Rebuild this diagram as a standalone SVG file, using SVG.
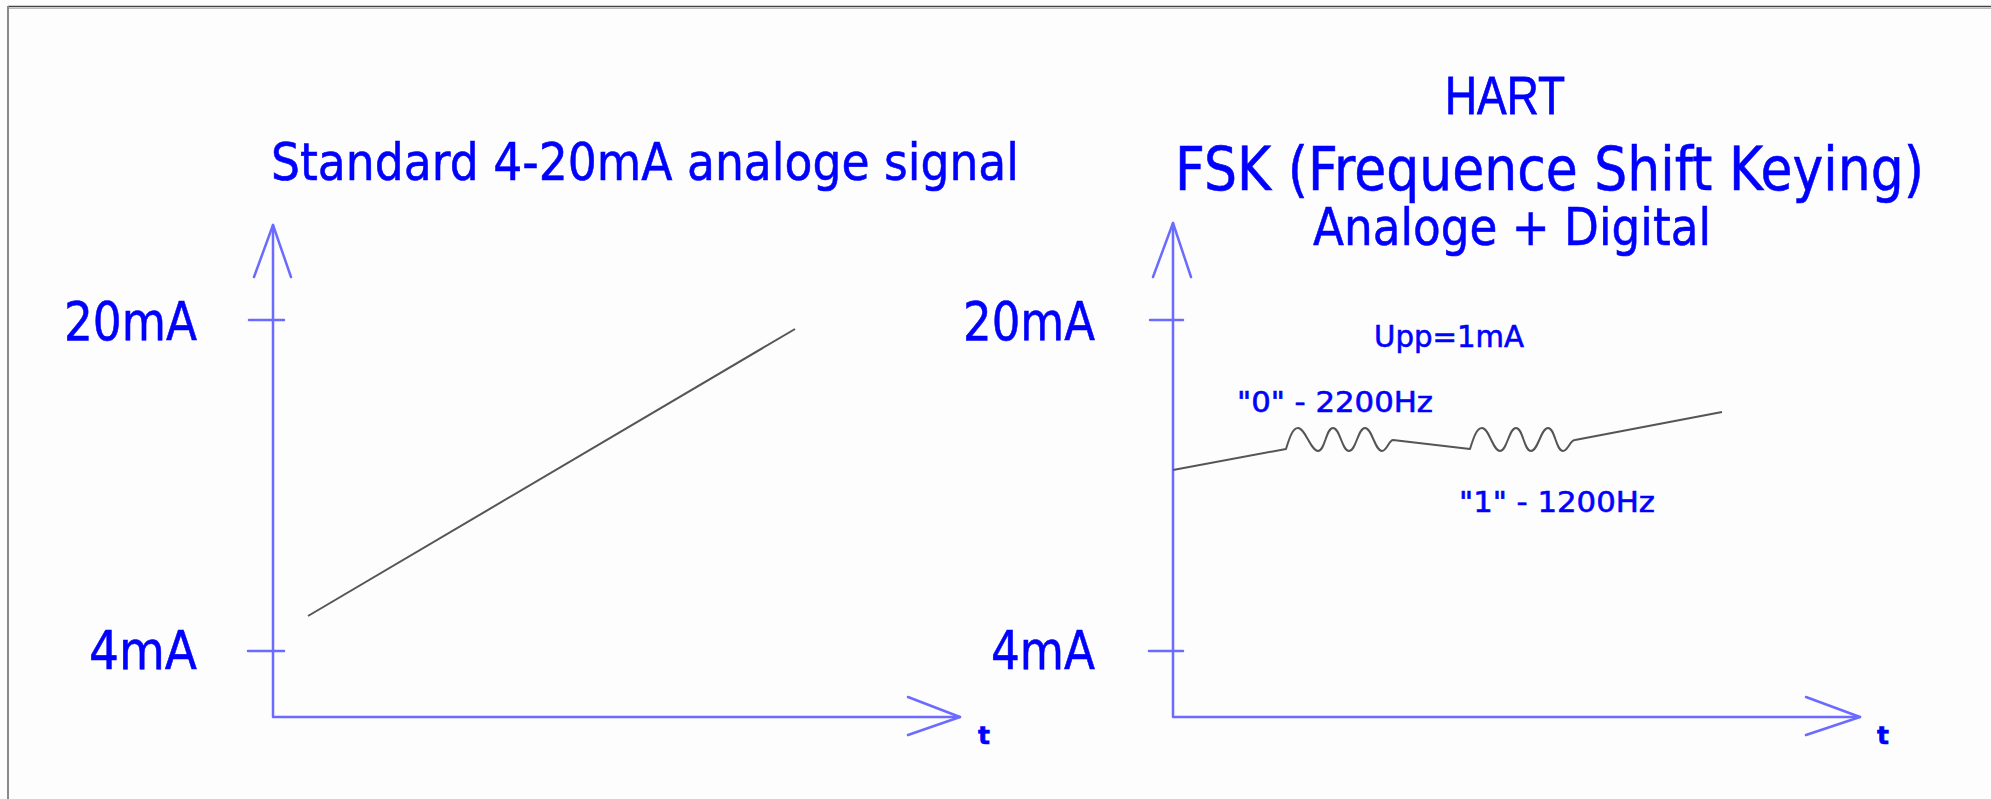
<svg xmlns="http://www.w3.org/2000/svg" width="1991" height="799" viewBox="0 0 1991 799">
<style>
.ax{stroke:#6b6bff;stroke-width:2.5;fill:none;stroke-linecap:round;stroke-linejoin:round}
.sig{stroke:#555;stroke-width:2;fill:none;stroke-linejoin:round}
.t{fill:#0000ff;stroke:#0000ff;stroke-width:0.6;font-family:"DejaVu Sans",Verdana,sans-serif}
.h{fill:#0000ff;stroke:#0000ff;stroke-width:0.8;font-family:"Liberation Sans",Arial,sans-serif}
</style>
<rect x="0" y="0" width="1991" height="799" fill="#fdfdfd"/>
<g id="frame">
<line x1="8" y1="6.5" x2="1991" y2="6.5" stroke="#444" stroke-width="1.5"/>
<line x1="8" y1="8.5" x2="1991" y2="8.5" stroke="#bbb" stroke-width="1"/>
<line x1="8" y1="6" x2="8" y2="799" stroke="#8a8a8a" stroke-width="2"/>
</g>
<g id="left-chart">
<text class="t" x="271" y="180" font-size="52" textLength="748" lengthAdjust="spacingAndGlyphs">Standard 4-20mA analoge signal</text>
<g id="left-axes">
<path class="ax" d="M273,225 L273,717 L960,717"/>
<path class="ax" d="M254,277 L273,225 L291,277"/>
<path class="ax" d="M908,697 L960,717 L908,735"/>
<line class="ax" x1="249" y1="320" x2="284" y2="320"/>
<line class="ax" x1="248" y1="651" x2="284" y2="651"/>
</g>
<text class="t" x="64" y="340" font-size="53" textLength="133" lengthAdjust="spacingAndGlyphs">20mA</text>
<text class="t" x="89" y="669" font-size="53" textLength="108" lengthAdjust="spacingAndGlyphs">4mA</text>
<text class="t" x="978" y="744" font-size="25" font-weight="bold" stroke-width="0">t</text>
<line id="left-signal" class="sig" x1="308" y1="616" x2="795" y2="329"/>
</g>
<g id="right-chart">
<text class="h" x="1445" y="114" font-size="54" textLength="120" lengthAdjust="spacingAndGlyphs">HART</text>
<text class="t" x="1175" y="190" font-size="61" textLength="749" lengthAdjust="spacingAndGlyphs">FSK (Frequence Shift Keying)</text>
<text class="t" x="1313" y="245" font-size="52" textLength="398" lengthAdjust="spacingAndGlyphs">Analoge + Digital</text>
<g id="right-axes">
<path class="ax" d="M1173,223 L1173,717 L1860,717"/>
<path class="ax" d="M1153,277 L1173,223 L1191,277"/>
<path class="ax" d="M1806,697 L1860,717 L1806,735"/>
<line class="ax" x1="1150" y1="320" x2="1183" y2="320"/>
<line class="ax" x1="1149" y1="651" x2="1183" y2="651"/>
</g>
<text class="t" x="963" y="340" font-size="53" textLength="132" lengthAdjust="spacingAndGlyphs">20mA</text>
<text class="t" x="991" y="669" font-size="53" textLength="104" lengthAdjust="spacingAndGlyphs">4mA</text>
<text class="t" x="1877" y="744" font-size="25" font-weight="bold" stroke-width="0">t</text>
<text class="t" x="1374" y="347" font-size="30" textLength="150" lengthAdjust="spacingAndGlyphs">Upp=1mA</text>
<text class="t" x="1237" y="412" font-size="28.5" textLength="196" lengthAdjust="spacingAndGlyphs">"0" - 2200Hz</text>
<text class="t" x="1459" y="512" font-size="28.5" textLength="196" lengthAdjust="spacingAndGlyphs">"1" - 1200Hz</text>
<path id="fsk-signal" class="sig" d="M1173,470 L1286,449 C1290,436 1293,428 1298,428 C1305,428 1311,451 1318,451 C1325,451 1326,428 1333,428 C1340,428 1342,451 1349,451 C1356,451 1358,428 1365,428 C1372,428 1375,451 1382,451 C1387,451 1389,440 1393,440 L1470,449 C1474,436 1477,428 1482,428 C1489,428 1493,451 1500,451 C1507,451 1509,428 1516,428 C1523,428 1524,451 1531,451 C1538,451 1541,428 1548,428 C1555,428 1556,451 1563,451 C1568,451 1570,440 1575,440 L1722,412"/>
</g>
</svg>
